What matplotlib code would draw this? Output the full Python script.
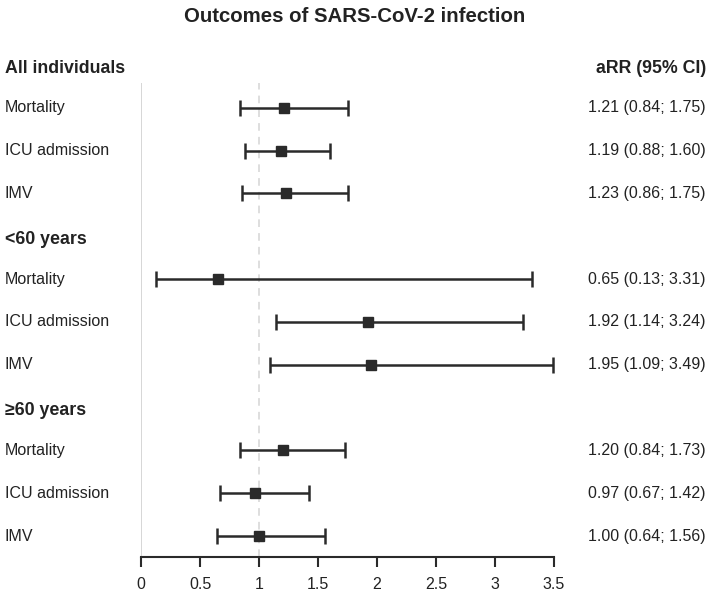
import matplotlib
matplotlib.use('Agg')
import matplotlib.pyplot as plt
import matplotlib.transforms as mtransforms

plt.rcParams['font.family'] = ['Liberation Sans', 'DejaVu Sans']

groups = ['All individuals', '<60 years', '\u226560 years']
outcomes = ['Mortality', 'ICU admission', 'IMV']
est = [1.21, 1.19, 1.23, 0.65, 1.92, 1.95, 1.20, 0.97, 1.00]
lower = [0.84, 0.88, 0.86, 0.13, 1.14, 1.09, 0.84, 0.67, 0.64]
upper = [1.75, 1.60, 1.75, 3.31, 3.24, 3.49, 1.73, 1.42, 1.56]
xticks = [0, 0.5, 1, 1.5, 2, 2.5, 3, 3.5]
xticklabels = ['0', '0.5', '1', '1.5', '2', '2.5', '3', '3.5']

W, H = 709, 593
fig = plt.figure(figsize=(W / 100, H / 100), dpi=100)
ax = fig.add_axes([141 / W, 1 - 557 / H, (554 - 141) / W, (557 - 83) / H])

dark = '#2a2a2a'
txt = '#222222'

# row positions: header rows and outcome rows
rows = []
header_rows = []
r = 0
for g in groups:
    header_rows.append(r)
    r += 1
    for o in outcomes:
        rows.append(r)
        r += 1

ax.set_xlim(0, 3.5)
ax.set_ylim(11.49, 0.42)

ax.axvline(0, color='#cfcfcf', lw=1.2, zorder=1)
ax.axvline(1, color='#d4d4d4', lw=1.1, ls=(0, (5, 4)), zorder=1)

for y, e, lo, hi in zip(rows, est, lower, upper):
    ax.errorbar(e, y, xerr=[[e - lo], [hi - e]], fmt='s', color=dark,
                ecolor=dark, elinewidth=1.8, capsize=5.5, capthick=1.8,
                markersize=6.5, zorder=3)

for s in ['top', 'right', 'left']:
    ax.spines[s].set_visible(False)
ax.spines['bottom'].set_color(dark)
ax.spines['bottom'].set_linewidth(1.5)
ax.set_yticks([])
ax.set_xticks(xticks)
ax.set_xticklabels(xticklabels)
ax.tick_params(axis='x', length=7, width=1.5, color=dark, pad=7.5,
               labelsize=11.5, labelcolor=txt)

trans = mtransforms.blended_transform_factory(fig.transFigure, ax.transData)
for hy, g in zip(header_rows, groups):
    ax.text(5 / W, hy + 0.07, g, transform=trans, fontsize=12.8,
            fontweight='bold', color=txt, ha='left', va='center')
ax.text(706 / W, 0.07, 'aRR (95% CI)', transform=trans, fontsize=12.8,
        fontweight='bold', color=txt, ha='right', va='center')

for i, y in enumerate(rows):
    ax.text(5 / W, y, outcomes[i % 3], transform=trans, fontsize=11.5,
            color=txt, ha='left', va='center')
    label = '%.2f (%.2f; %.2f)' % (est[i], lower[i], upper[i])
    ax.text(706 / W, y, label, transform=trans, fontsize=11.5,
            color=txt, ha='right', va='center')

fig.text(355 / W, 1 - 16 / H, 'Outcomes of SARS-CoV-2 infection',
         fontsize=14.7, fontweight='bold', color=txt, ha='center',
         va='center')

fig.savefig('out.png', dpi=100)
